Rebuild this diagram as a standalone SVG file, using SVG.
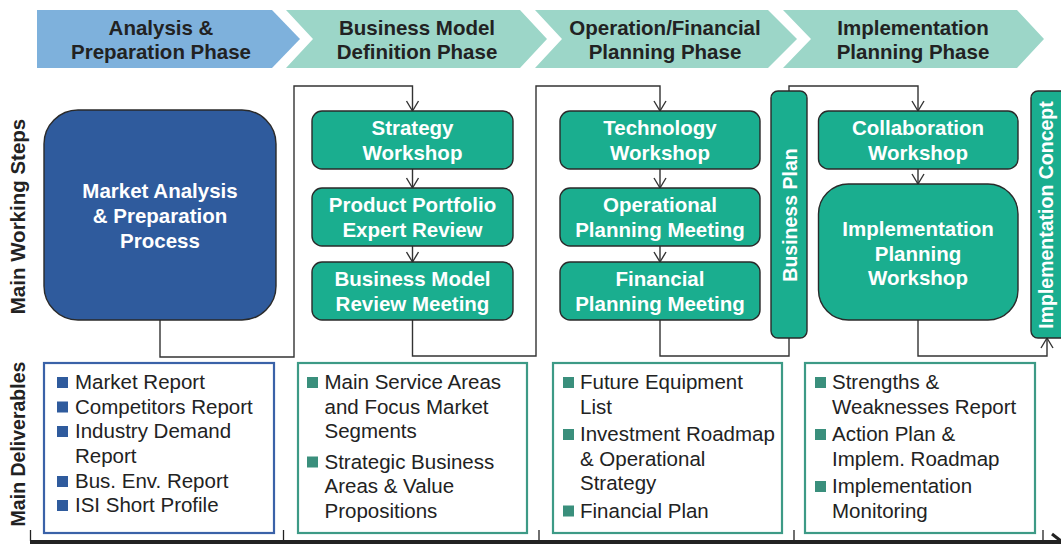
<svg xmlns="http://www.w3.org/2000/svg" width="1061" height="544" viewBox="0 0 1061 544">
<style>
.hdr{font-family:"Liberation Sans",Arial,sans-serif;font-weight:bold;font-size:20.5px;fill:#222;text-anchor:middle}
.lbl{font-family:"Liberation Sans",Arial,sans-serif;font-weight:bold;font-size:20.5px;fill:#222;text-anchor:middle}
.nt{font-family:"Liberation Sans",Arial,sans-serif;font-weight:bold;font-size:20.5px;fill:#fff;text-anchor:middle}
.bt{font-family:"Liberation Sans",Arial,sans-serif;font-weight:bold;font-size:19.5px;fill:#fff;text-anchor:middle}
.dt{font-family:"Liberation Sans",Arial,sans-serif;font-size:20.5px;fill:#222}
.teal{fill:#1AAE8F;stroke:#2a2a2a;stroke-width:1.4}
.blue{fill:#2F5B9D;stroke:#2a2a2a;stroke-width:1.4}
.con{fill:none;stroke:#333;stroke-width:1.4}
.dbB{fill:#fff;stroke:#3A62A8;stroke-width:2.2}
.dbT{fill:#fff;stroke:#3D9A86;stroke-width:2.2}
.sqB{fill:#2F5B9D}
.sqT{fill:#3A8F7C}
</style>
<defs>
<marker id="arr" markerUnits="userSpaceOnUse" markerWidth="20" markerHeight="20" refX="0" refY="0" orient="auto" overflow="visible">
<path d="M-10,-6 L0,0 L-10,6" fill="none" stroke="#333" stroke-width="1.4"/>
</marker>
</defs>

<g id="phases">
<polygon points="37,10 272,10 300,39 272,68 37,68" fill="#7EB1DC"/>
<polygon points="286,10 520,10 547,39 520,68 286,68 313,39" fill="#9CD6C8"/>
<polygon points="535,10 768,10 797,39 768,68 535,68 562,39" fill="#9CD6C8"/>
<polygon points="783,10 1017,10 1044,39 1017,68 783,68 811,39" fill="#9CD6C8"/>
<text class="hdr" x="161" y="35">Analysis &amp;</text>
<text class="hdr" x="161" y="59">Preparation Phase</text>
<text class="hdr" x="417" y="35">Business Model</text>
<text class="hdr" x="417" y="59">Definition Phase</text>
<text class="hdr" x="665" y="35">Operation/Financial</text>
<text class="hdr" x="665" y="59">Planning Phase</text>
<text class="hdr" x="913" y="35">Implementation</text>
<text class="hdr" x="913" y="59">Planning Phase</text>
</g>

<g id="row-labels">
<text class="lbl" transform="translate(25,216.5) rotate(-90)">Main Working Steps</text>
<text class="lbl" transform="translate(25,444) rotate(-90)" style="font-size:19.5px">Main Deliverables</text>
</g>

<g id="connectors">
<path class="con" d="M160,320 V357 H294 V86 H412.5 V111" marker-end="url(#arr)"/>
<path class="con" d="M412.5,169 V188" marker-end="url(#arr)"/>
<path class="con" d="M412.5,246 V262" marker-end="url(#arr)"/>
<path class="con" d="M412.5,320 V356 H536 V86 H660 V111" marker-end="url(#arr)"/>
<path class="con" d="M660,169 V188" marker-end="url(#arr)"/>
<path class="con" d="M660,246 V262" marker-end="url(#arr)"/>
<path class="con" d="M660,320 V356 H789 V338"/>
<path class="con" d="M789,91 V86 H918 V111" marker-end="url(#arr)"/>
<path class="con" d="M918,169 V184" marker-end="url(#arr)"/>
<path class="con" d="M918,320 V356 H1047 V338" marker-end="url(#arr)"/>
</g>

<g id="market-analysis">
<rect class="blue" x="44" y="110" width="232" height="210" rx="34"/>
<text class="nt" x="160" y="198">Market Analysis</text>
<text class="nt" x="160" y="223">&amp; Preparation</text>
<text class="nt" x="160" y="248">Process</text>
</g>

<g id="strategy-workshop">
<rect class="teal" x="312" y="111" width="201" height="58" rx="10"/>
<text class="nt" x="412.5" y="135">Strategy</text>
<text class="nt" x="412.5" y="160">Workshop</text>
</g>
<g id="product-portfolio">
<rect class="teal" x="312" y="188" width="201" height="58" rx="10"/>
<text class="nt" x="412.5" y="212">Product Portfolio</text>
<text class="nt" x="412.5" y="237">Expert Review</text>
</g>
<g id="business-model-review">
<rect class="teal" x="312" y="262" width="201" height="58" rx="10"/>
<text class="nt" x="412.5" y="286">Business Model</text>
<text class="nt" x="412.5" y="311">Review Meeting</text>
</g>

<g id="technology-workshop">
<rect class="teal" x="560" y="111" width="200" height="58" rx="10"/>
<text class="nt" x="660" y="135">Technology</text>
<text class="nt" x="660" y="160">Workshop</text>
</g>
<g id="operational-planning">
<rect class="teal" x="560" y="188" width="200" height="58" rx="10"/>
<text class="nt" x="660" y="212">Operational</text>
<text class="nt" x="660" y="237">Planning Meeting</text>
</g>
<g id="financial-planning">
<rect class="teal" x="560" y="262" width="200" height="58" rx="10"/>
<text class="nt" x="660" y="286">Financial</text>
<text class="nt" x="660" y="311">Planning Meeting</text>
</g>

<g id="business-plan">
<rect class="teal" x="771" y="91" width="36" height="247" rx="7"/>
<text class="bt" transform="translate(796.5,215) rotate(-90)">Business Plan</text>
</g>

<g id="collaboration-workshop">
<rect class="teal" x="818.5" y="111" width="199.5" height="58" rx="10"/>
<text class="nt" x="918" y="135">Collaboration</text>
<text class="nt" x="918" y="160">Workshop</text>
</g>
<g id="implementation-planning-workshop">
<rect class="teal" x="818.5" y="184" width="199.5" height="136" rx="30"/>
<text class="nt" x="918" y="236">Implementation</text>
<text class="nt" x="918" y="260.5">Planning</text>
<text class="nt" x="918" y="285">Workshop</text>
</g>

<g id="implementation-concept">
<rect class="teal" x="1031" y="91" width="36" height="247" rx="7"/>
<text class="bt" transform="translate(1053,215) rotate(-90)">Implementation Concept</text>
</g>

<g id="deliverables-analysis">
<rect class="dbB" x="44" y="363" width="230" height="170"/>
<rect class="sqB" x="57" y="377" width="11" height="11"/>
<rect class="sqB" x="57" y="401.5" width="11" height="11"/>
<rect class="sqB" x="57" y="426" width="11" height="11"/>
<rect class="sqB" x="57" y="476" width="11" height="11"/>
<rect class="sqB" x="57" y="500" width="11" height="11"/>
<text class="dt" x="75" y="389">Market Report</text>
<text class="dt" x="75" y="413.5">Competitors Report</text>
<text class="dt" x="75" y="438">Industry Demand</text>
<text class="dt" x="75" y="463">Report</text>
<text class="dt" x="75" y="488">Bus. Env. Report</text>
<text class="dt" x="75" y="512">ISI Short Profile</text>
</g>

<g id="deliverables-business-model">
<rect class="dbT" x="298" y="363" width="229" height="170"/>
<rect class="sqT" x="307" y="377" width="11" height="11"/>
<rect class="sqT" x="307" y="456.5" width="11" height="11"/>
<text class="dt" x="324.5" y="389">Main Service Areas</text>
<text class="dt" x="324.5" y="413.5">and Focus Market</text>
<text class="dt" x="324.5" y="438">Segments</text>
<text class="dt" x="324.5" y="468.5">Strategic Business</text>
<text class="dt" x="324.5" y="493">Areas &amp; Value</text>
<text class="dt" x="324.5" y="517.5">Propositions</text>
</g>

<g id="deliverables-operation">
<rect class="dbT" x="553" y="363" width="229" height="170"/>
<rect class="sqT" x="563" y="377" width="11" height="11"/>
<rect class="sqT" x="563" y="429" width="11" height="11"/>
<rect class="sqT" x="563" y="505.5" width="11" height="11"/>
<text class="dt" x="580" y="389">Future Equipment</text>
<text class="dt" x="580" y="413.5">List</text>
<text class="dt" x="580" y="441">Investment Roadmap</text>
<text class="dt" x="580" y="465.5">&amp; Operational</text>
<text class="dt" x="580" y="490">Strategy</text>
<text class="dt" x="580" y="517.5">Financial Plan</text>
</g>

<g id="deliverables-implementation">
<rect class="dbT" x="805" y="363" width="230" height="170"/>
<rect class="sqT" x="815" y="377" width="11" height="11"/>
<rect class="sqT" x="815" y="429" width="11" height="11"/>
<rect class="sqT" x="815" y="481" width="11" height="11"/>
<text class="dt" x="832" y="389">Strengths &amp;</text>
<text class="dt" x="832" y="413.5">Weaknesses Report</text>
<text class="dt" x="832" y="441">Action Plan &amp;</text>
<text class="dt" x="832" y="466">Implem. Roadmap</text>
<text class="dt" x="832" y="493">Implementation</text>
<text class="dt" x="832" y="517.5">Monitoring</text>
</g>

<g id="timeline-axis" stroke="#222" fill="none">
<line x1="30" y1="542" x2="1061" y2="542" stroke-width="4"/>
<line x1="30.5" y1="530" x2="30.5" y2="541" stroke-width="1.3"/>
<line x1="283.5" y1="530" x2="283.5" y2="541" stroke-width="1.3"/>
<line x1="539" y1="530" x2="539" y2="541" stroke-width="1.3"/>
<line x1="794" y1="530" x2="794" y2="541" stroke-width="1.3"/>
<line x1="1043" y1="530" x2="1043" y2="541" stroke-width="1.3"/>
<line x1="1052" y1="534" x2="1061" y2="541" stroke-width="3"/>
</g>
</svg>
